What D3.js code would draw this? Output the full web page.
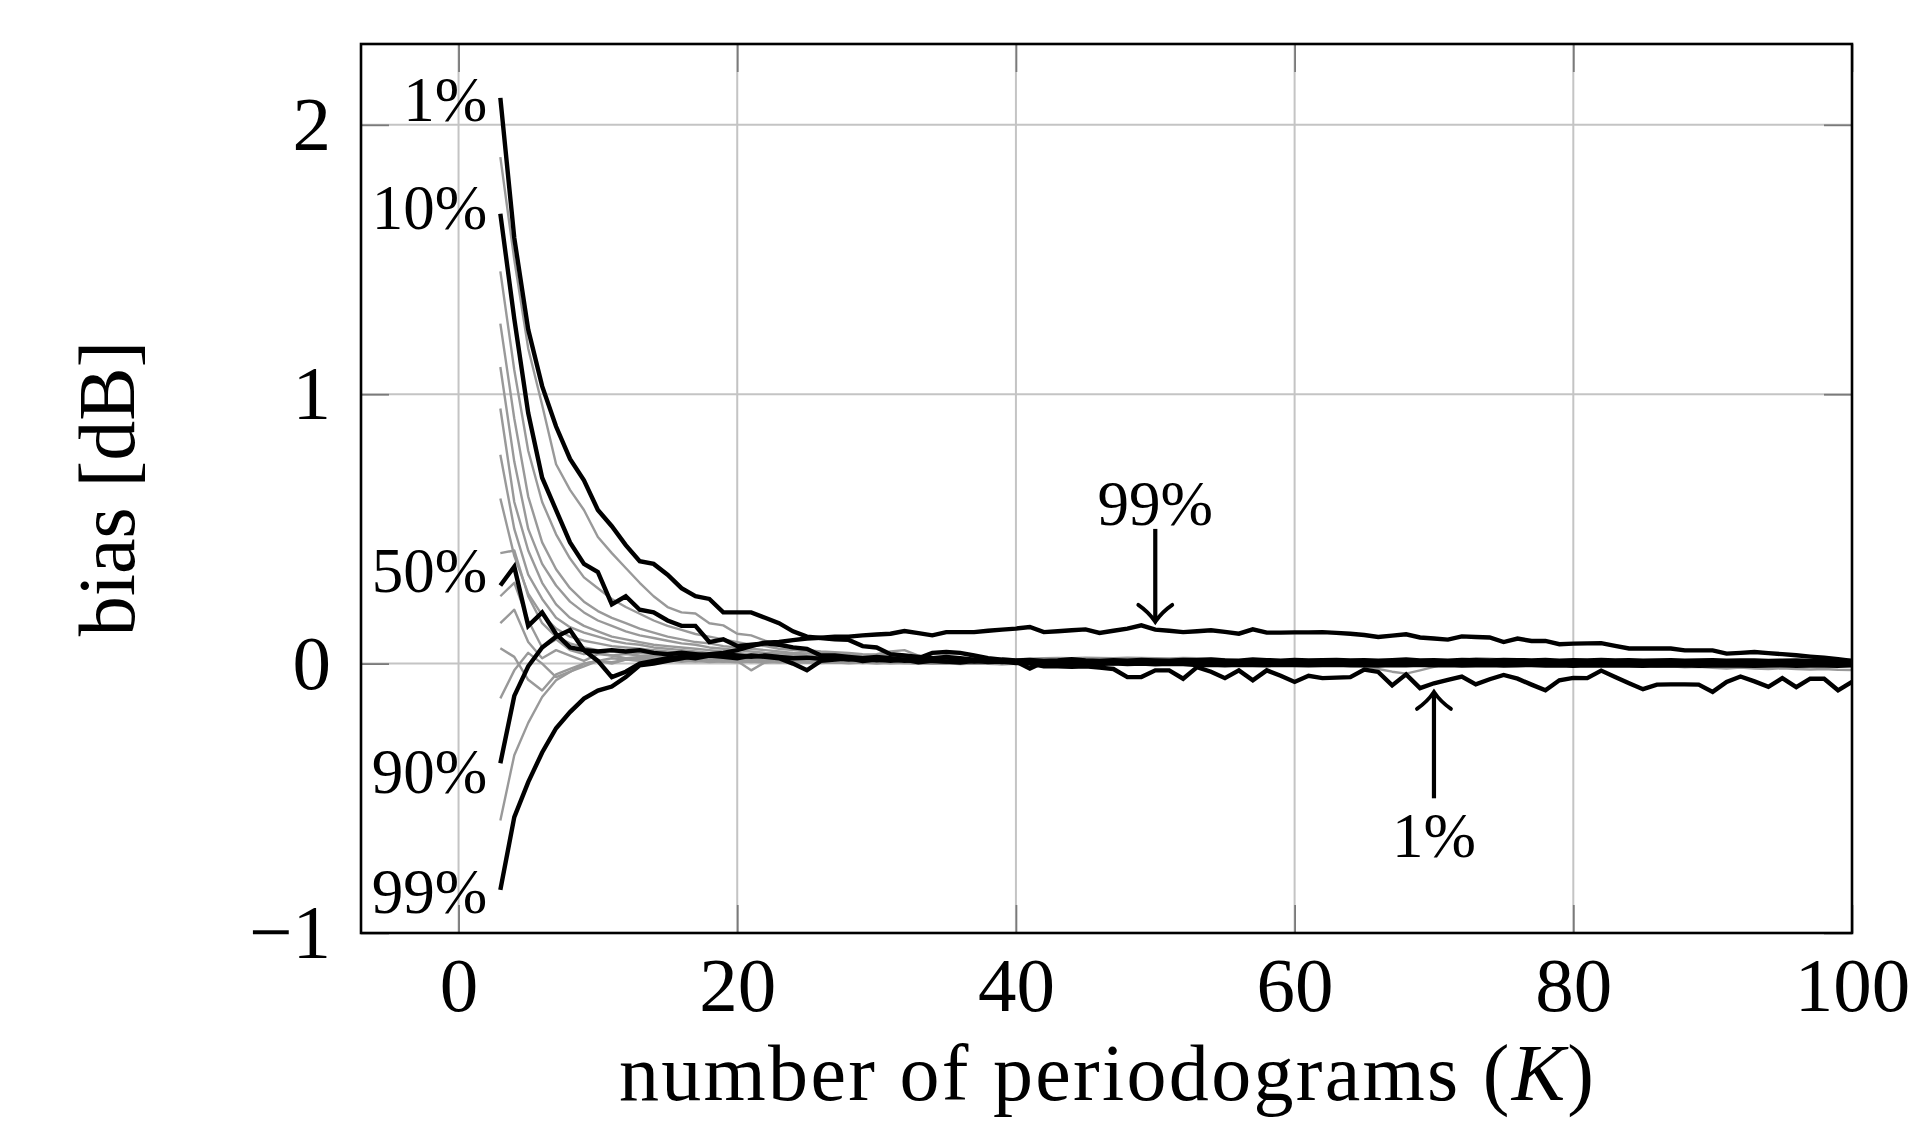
<!DOCTYPE html>
<html><head><meta charset="utf-8">
<script src="https://cdn.jsdelivr.net/npm/d3@7"></script>
<style>
html,body{margin:0;padding:0;background:#fff;}
svg{display:block;}
text{font-family:'Liberation Serif','Times New Roman',serif;fill:#000;}
</style>
</head><body>
<svg id="chart" width="1918" height="1145"></svg>
<script>
// ---------------- DATA ----------------
const K = [3,4,5,6,7,8,9,10,11,12,
13,14,15,16,17,18,19,20,21,22,
23,24,25,26,27,28,29,30,31,32,
33,34,35,36,37,38,39,40,41,42,
43,44,45,46,47,48,49,50,51,52,
53,54,55,56,57,58,59,60,61,62,
63,64,65,66,67,68,69,70,71,72,
73,74,75,76,77,78,79,80,81,82,
83,84,85,86,87,88,89,90,91,92,
93,94,95,96,97,98,99,100];

const xTicks = [0,20,40,60,80,100];
const yTicks = [-1,0,1,2];
const xTickLabels = ["0","20","40","60","80","100"];
const yTickLabels = ["\u22121","0","1","2"];
const xLabel = "number of periodograms";
const yLabel = "bias [dB]";

// black (labelled) curves
const p1 = [2.10,1.58,1.24,1.03,0.88,0.76,0.68,0.57,0.51,0.44,
0.38,0.37,0.33,0.28,0.25,0.24,0.19,0.19,0.19,0.17,
0.15,0.12,0.10,0.095,0.09,0.088,0.065,0.06,0.035,0.03,
0.025,0.02,0.025,0.02,0.015,0.015,0.01,0.005,0.0,-0.01,
-0.01,-0.012,-0.01,-0.015,-0.02,-0.05,-0.05,-0.025,-0.025,-0.056,
-0.013,-0.03,-0.054,-0.025,-0.062,-0.025,-0.045,-0.068,-0.045,-0.054,
-0.052,-0.05,-0.022,-0.031,-0.081,-0.04,-0.091,-0.073,-0.06,-0.048,
-0.077,-0.058,-0.042,-0.056,-0.078,-0.099,-0.062,-0.053,-0.054,-0.026,
-0.05,-0.073,-0.095,-0.078,-0.077,-0.077,-0.078,-0.105,-0.068,-0.048,
-0.066,-0.086,-0.054,-0.087,-0.056,-0.056,-0.099,-0.068];

const p10 = [1.67,1.28,0.93,0.69,0.57,0.45,0.37,0.34,0.22,0.25,
0.20,0.19,0.16,0.14,0.14,0.08,0.09,0.065,0.07,0.075,
0.07,0.06,0.055,0.03,0.03,0.025,0.02,0.025,0.02,0.015,
0.02,0.04,0.043,0.04,0.03,0.02,0.015,0.012,0.014,0.01,
0.012,0.016,0.012,0.01,0.013,0.011,0.014,0.012,0.011,0.014,
0.013,0.015,0.012,0.011,0.015,0.013,0.011,0.014,0.012,0.013,
0.014,0.012,0.013,0.011,0.013,0.015,0.012,0.013,0.011,0.014,
0.013,0.012,0.014,0.013,0.012,0.014,0.011,0.013,0.012,0.014,
0.012,0.013,0.011,0.012,0.013,0.011,0.012,0.013,0.011,0.012,
0.012,0.01,0.011,0.012,0.01,0.011,0.01,0.01];

const p50 = [0.29,0.36,0.14,0.19,0.11,0.06,0.05,0.045,0.05,0.045,
0.05,0.04,0.035,0.04,0.035,0.03,0.035,0.03,0.025,0.03,
0.025,0.02,0.022,0.018,0.02,0.015,0.018,0.012,0.015,0.01,
0.012,0.01,0.008,0.012,0.008,0.01,0.006,0.008,-0.018,0.006,
0.004,0.006,0.005,0.003,0.006,0.004,0.005,0.003,0.004,0.005,
0.003,0.004,0.002,0.004,0.003,0.002,0.004,0.003,0.002,0.003,
0.004,0.002,0.003,0.001,0.003,0.002,0.004,0.002,0.003,0.001,
0.002,0.003,0.001,0.002,0.003,0.001,0.002,0.0,0.002,0.001,
0.002,0.001,0.0,0.002,0.001,0.002,0.0,0.001,0.002,0.001,
0.0,0.001,0.002,0.0,0.001,0.001,0.0,0.001];

const p90 = [-0.37,-0.12,-0.01,0.06,0.10,0.125,0.05,0.01,-0.05,-0.03,
0.0,0.01,0.02,0.025,0.02,0.03,0.025,0.02,0.03,0.025,
0.02,0.0,-0.025,0.01,0.015,0.02,0.01,0.015,0.01,0.015,
0.005,0.01,0.008,0.004,0.01,0.006,0.008,0.002,0.004,0.006,
0.001,0.003,0.0,-0.002,0.001,-0.002,0.0,-0.003,-0.001,-0.002,
-0.005,-0.004,-0.006,-0.004,-0.005,-0.006,-0.004,-0.005,-0.006,-0.005,
-0.004,-0.006,-0.005,-0.007,-0.005,-0.006,-0.004,-0.006,-0.005,-0.007,
-0.006,-0.005,-0.007,-0.006,-0.005,-0.007,-0.006,-0.008,-0.006,-0.007,
-0.006,-0.007,-0.008,-0.006,-0.007,-0.006,-0.008,-0.007,-0.006,-0.007,
-0.008,-0.007,-0.006,-0.008,-0.007,-0.007,-0.008,-0.006];

const p99 = [-0.84,-0.57,-0.44,-0.33,-0.24,-0.18,-0.13,-0.10,-0.085,-0.05,
-0.006,0.0,0.01,0.02,0.03,0.035,0.04,0.05,0.065,0.078,
0.08,0.087,0.093,0.096,0.10,0.10,0.105,0.108,0.111,0.121,
0.113,0.105,0.117,0.117,0.117,0.122,0.126,0.13,0.136,0.117,
0.12,0.124,0.127,0.114,0.122,0.13,0.142,0.126,0.122,0.117,
0.12,0.124,0.118,0.111,0.127,0.115,0.115,0.116,0.116,0.117,
0.114,0.111,0.106,0.099,0.104,0.109,0.097,0.093,0.089,0.101,
0.099,0.097,0.08,0.093,0.084,0.084,0.072,0.074,0.075,0.076,
0.066,0.056,0.056,0.056,0.056,0.049,0.049,0.049,0.037,0.04,
0.043,0.039,0.035,0.031,0.026,0.022,0.016,0.01];

// gray (unlabelled) curves
const g1 = [1.88,1.50,1.17,0.96,0.74,0.645,0.57,0.47,0.41,0.355,
0.30,0.25,0.21,0.19,0.186,0.15,0.142,0.111,0.105,0.085,
0.07,0.06,0.05,0.045,0.042,0.04,0.035,0.032,0.03,0.026,
0.025,0.021,0.022,0.018,0.02,0.016,0.018,0.015,0.013,0.015,
0.012,0.011,0.013,0.01,0.009,0.011,0.008,0.01,0.007,0.009,
0.007,0.008,0.006,0.008,0.006,0.007,0.005,0.007,0.006,0.005,
0.006,0.005,0.007,0.005,0.006,0.004,0.006,0.005,0.004,0.006,
0.005,0.004,0.005,0.003,0.005,0.004,0.003,0.005,0.004,0.003,
0.004,0.003,0.004,0.002,0.004,0.003,0.002,0.004,0.003,0.002,
0.003,0.002,0.003,0.002,0.003,0.001,0.002,0.003];

const g2 = [1.456,1.09,0.79,0.60,0.48,0.39,0.32,0.28,0.24,0.21,
0.185,0.16,0.14,0.125,0.11,0.10,0.09,0.08,0.07,0.065,
0.055,0.05,0.046,0.04,0.037,0.034,0.03,0.027,0.025,0.022,
0.02,0.018,0.02,0.016,0.017,0.013,0.015,0.012,0.011,0.013,
0.01,0.012,0.009,0.011,0.008,0.01,0.009,0.007,0.009,0.008,
0.006,0.008,0.007,0.005,0.007,0.006,0.004,0.006,0.005,0.007,
0.005,0.004,0.006,0.005,0.003,0.005,0.004,0.006,0.004,0.003,
0.005,0.004,0.002,0.004,0.003,0.005,0.003,0.002,0.004,0.003,
0.002,0.004,0.003,0.001,0.003,0.002,0.004,0.002,0.001,0.003,
0.002,0.001,0.003,0.002,0.001,0.002,0.003,0.001];

const g3 = [1.262,0.91,0.62,0.45,0.35,0.28,0.23,0.195,0.17,0.15,
0.13,0.115,0.10,0.09,0.08,0.075,0.065,0.06,0.055,0.05,
0.045,0.04,0.038,0.035,0.03,0.028,0.03,0.035,0.045,0.05,
0.03,0.02,0.016,0.014,0.012,0.013,0.01,0.012,0.009,0.011,
0.008,0.01,0.007,0.009,0.006,0.008,0.007,0.005,0.007,0.006,
0.004,0.006,0.005,0.003,0.005,0.004,0.002,0.004,0.003,0.005,
0.003,0.002,0.004,0.003,0.001,0.003,0.002,0.004,0.002,0.001,
0.003,0.002,0.0,0.002,0.001,0.003,0.001,0.0,0.002,0.001,
0.0,0.002,0.001,-0.001,0.001,0.0,0.002,0.0,-0.001,0.001,
0.0,-0.001,0.001,0.0,-0.001,0.0,0.001,-0.001];

const g4 = [1.101,0.75,0.50,0.37,0.29,0.23,0.19,0.16,0.14,0.12,
0.105,0.095,0.085,0.075,0.07,0.06,0.055,0.05,0.045,0.04,
0.038,0.035,0.03,0.028,0.025,0.023,0.02,0.019,0.017,0.016,
0.014,0.015,0.012,0.013,0.01,0.011,0.009,0.01,0.008,0.009,
0.007,0.009,0.006,0.008,0.005,0.007,0.006,0.004,0.006,0.005,
0.003,0.005,0.004,0.002,0.004,0.003,0.001,0.003,0.002,0.004,
0.002,0.001,0.003,0.002,0.0,0.002,0.001,0.003,0.001,0.0,
0.002,0.001,-0.001,0.001,0.0,0.002,0.0,-0.001,0.001,0.0,
-0.001,0.001,0.0,-0.002,0.0,-0.001,0.001,-0.001,-0.002,0.0,
-0.001,-0.002,0.0,-0.001,-0.002,-0.001,0.0,-0.002];

const g5 = [0.947,0.60,0.42,0.30,0.22,0.17,0.14,0.12,0.10,0.09,
0.08,0.07,0.065,0.06,0.055,0.05,0.045,0.04,0.035,0.035,
0.03,0.028,0.025,0.027,0.022,0.02,0.018,0.019,0.016,0.015,
0.013,0.014,0.011,0.012,0.01,0.011,0.012,0.015,0.018,0.02,
0.021,0.02,0.022,0.021,0.02,0.022,0.021,0.02,0.019,0.021,
0.02,0.018,0.016,0.013,0.01,0.008,0.006,0.005,0.004,0.003,
0.004,0.002,0.003,0.001,0.002,0.0,0.001,0.002,0.0,0.001,
0.0,-0.001,0.001,0.0,-0.002,0.0,-0.001,0.001,-0.001,-0.002,
0.0,-0.001,-0.003,-0.001,-0.002,0.0,-0.002,-0.003,-0.001,-0.002,
-0.003,-0.002,-0.004,-0.002,-0.003,-0.004,-0.002,-0.003];

const g6 = [0.775,0.50,0.33,0.24,0.17,0.135,0.115,0.10,0.085,0.075,
0.07,0.06,0.055,0.05,0.045,0.04,0.04,0.035,0.03,0.03,
0.026,0.024,0.022,0.02,0.018,0.017,0.015,0.016,0.013,0.012,
0.011,0.012,0.009,0.01,0.008,0.009,0.007,0.008,0.006,0.007,
0.005,0.007,0.004,0.006,0.003,0.005,0.004,0.002,0.004,0.003,
0.001,0.003,0.002,0.0,0.002,0.001,-0.001,0.001,0.0,0.002,
0.0,-0.001,0.001,0.0,-0.002,0.0,-0.001,0.001,-0.001,-0.002,
0.0,-0.001,-0.003,-0.001,-0.002,0.0,-0.002,-0.003,-0.001,-0.002,
-0.003,-0.001,-0.002,-0.004,-0.002,-0.003,-0.001,-0.003,-0.004,-0.002,
-0.003,-0.004,-0.002,-0.003,-0.004,-0.003,-0.002,-0.004];

const g7 = [0.613,0.40,0.26,0.18,0.13,0.10,0.085,0.075,0.065,0.06,
0.055,0.05,0.045,0.04,0.04,0.035,0.03,0.03,0.025,0.025,
0.022,0.02,0.018,0.017,0.015,0.014,0.012,0.013,0.01,0.011,
0.009,0.01,0.008,0.009,0.006,0.008,0.005,0.007,0.005,0.006,
0.004,0.006,0.003,0.005,0.002,0.004,0.003,0.001,0.003,0.002,
0.0,0.002,0.001,-0.001,0.001,0.0,-0.002,0.0,-0.001,0.001,
-0.001,-0.002,0.0,-0.001,-0.003,-0.001,-0.002,0.0,-0.002,-0.003,
-0.001,-0.002,-0.004,-0.002,-0.003,-0.001,-0.003,-0.004,-0.002,-0.003,
-0.008,-0.006,-0.01,-0.012,-0.01,-0.014,-0.012,-0.016,-0.018,-0.015,
-0.018,-0.02,-0.017,-0.02,-0.022,-0.02,-0.023,-0.024];

const g8 = [0.41,0.42,0.25,0.15,0.10,0.075,0.06,0.05,0.045,0.04,
0.04,0.035,0.032,0.03,0.028,0.025,0.022,0.02,0.02,0.018,
0.016,0.015,0.013,0.014,0.012,0.011,0.01,0.012,0.009,0.01,
0.008,0.009,0.007,0.008,0.006,0.007,0.005,0.006,0.004,0.005,
0.003,0.005,0.002,0.004,0.003,0.001,0.003,0.002,0.0,0.002,
0.001,-0.001,0.001,0.0,-0.002,0.0,-0.001,0.001,-0.001,-0.002,
0.0,-0.001,-0.003,-0.001,-0.002,0.0,-0.002,-0.003,-0.001,-0.002,
-0.003,-0.001,-0.002,-0.004,-0.002,-0.003,-0.001,-0.003,-0.004,-0.002,
-0.003,-0.004,-0.002,-0.003,-0.005,-0.003,-0.004,-0.002,-0.004,-0.005,
-0.003,-0.004,-0.005,-0.003,-0.004,-0.005,-0.004,-0.003];

const g9 = [0.25,0.30,0.16,0.06,0.09,0.05,0.035,0.04,0.03,0.035,
0.03,0.028,0.025,0.027,0.022,0.02,0.018,0.01,-0.025,0.005,
0.012,0.015,0.011,0.013,0.01,0.012,0.009,0.011,0.008,0.01,
0.007,0.009,0.006,0.008,0.005,0.007,0.004,0.006,0.003,0.005,
0.002,0.004,0.001,0.003,0.002,0.0,0.002,0.001,-0.001,0.001,
0.0,-0.002,0.0,-0.001,-0.003,-0.001,-0.002,0.0,-0.002,-0.003,
-0.001,-0.002,-0.004,-0.002,-0.003,-0.001,-0.003,-0.004,-0.002,-0.003,
-0.004,-0.002,-0.003,-0.005,-0.003,-0.004,-0.002,-0.004,-0.005,-0.003,
-0.004,-0.005,-0.003,-0.004,-0.006,-0.004,-0.005,-0.003,-0.005,-0.006,
-0.004,-0.005,-0.006,-0.004,-0.005,-0.006,-0.005,-0.004];

const g10 = [0.15,0.20,0.08,0.02,0.05,0.03,0.01,0.035,0.03,0.02,
0.025,0.02,0.018,0.02,0.015,0.017,0.013,0.015,0.012,0.014,
0.011,0.013,0.01,0.012,0.009,0.011,0.008,0.01,0.007,0.009,
0.006,0.008,0.005,0.007,0.004,0.006,0.003,0.005,0.002,0.004,
0.001,0.003,0.0,0.002,0.001,-0.001,0.001,0.0,-0.002,0.0,
-0.001,-0.003,-0.001,-0.002,-0.004,-0.002,-0.003,-0.001,-0.003,-0.004,
-0.005,-0.008,-0.01,-0.02,-0.03,-0.037,-0.025,-0.012,0.0,0.012,
0.02,0.018,0.015,0.012,0.01,0.008,0.006,0.005,0.003,0.002,
0.0,0.001,-0.001,0.0,-0.002,0.0,-0.001,-0.002,0.0,-0.001,
-0.002,-0.001,0.0,-0.002,-0.001,0.0,-0.002,-0.001];

const g11 = [0.057,0.025,-0.06,-0.10,-0.04,-0.02,0.0,0.01,0.02,0.015,
0.018,0.015,0.017,0.013,0.015,0.012,0.014,0.011,0.013,0.01,
0.012,0.009,0.011,0.008,0.01,0.007,0.009,0.006,0.008,0.005,
0.007,0.004,0.006,0.003,0.005,0.002,0.004,0.001,0.003,0.0,
0.002,-0.001,0.001,-0.002,0.0,-0.001,0.001,-0.002,0.0,-0.001,
-0.002,0.0,-0.003,-0.001,-0.002,-0.004,-0.002,-0.003,-0.001,-0.003,
-0.004,-0.002,-0.003,-0.005,-0.003,-0.004,-0.002,-0.004,-0.005,-0.003,
-0.004,-0.005,-0.003,-0.004,-0.006,-0.004,-0.005,-0.003,-0.005,-0.006,
-0.004,-0.005,-0.006,-0.004,-0.005,-0.006,-0.005,-0.004,-0.006,-0.005,
-0.006,-0.004,-0.005,-0.006,-0.005,-0.004,-0.006,-0.005];

const g12 = [-0.129,-0.025,0.04,0.0,-0.05,-0.03,-0.01,0.01,0.0,0.015,
0.01,0.013,0.009,0.012,0.008,0.011,0.007,0.01,0.006,0.009,
0.005,0.008,0.004,0.007,0.003,0.006,0.002,0.005,0.001,0.004,
0.0,0.003,-0.001,0.002,0.0,0.001,-0.002,0.0,-0.001,0.001,
-0.002,0.0,-0.003,-0.001,-0.002,0.0,-0.003,-0.001,-0.002,-0.004,
-0.002,-0.003,-0.001,-0.003,-0.004,-0.002,-0.003,-0.001,-0.003,-0.004,
-0.002,-0.004,-0.003,-0.005,-0.003,-0.004,-0.002,-0.004,-0.005,-0.003,
-0.005,-0.003,-0.004,-0.006,-0.004,-0.005,-0.003,-0.005,-0.006,-0.004,
-0.005,-0.006,-0.004,-0.005,-0.007,-0.005,-0.006,-0.004,-0.006,-0.007,
-0.005,-0.006,-0.007,-0.005,-0.006,-0.007,-0.006,-0.005];

const g13 = [-0.582,-0.34,-0.22,-0.124,-0.062,-0.031,0.0,0.01,0.005,0.015,
0.012,0.008,0.011,0.007,0.01,0.006,0.009,0.005,0.008,0.004,
0.007,0.003,0.006,0.002,0.005,0.001,0.004,0.0,0.003,0.001,
0.002,-0.001,0.001,-0.002,0.0,-0.001,-0.003,-0.001,-0.002,0.0,
-0.002,-0.003,-0.001,-0.003,-0.004,-0.002,-0.003,-0.001,-0.003,-0.004,
-0.003,-0.005,-0.003,-0.004,-0.002,-0.004,-0.005,-0.003,-0.004,-0.006,
-0.004,-0.005,-0.003,-0.005,-0.006,-0.004,-0.005,-0.003,-0.005,-0.006,
-0.004,-0.006,-0.005,-0.007,-0.005,-0.006,-0.004,-0.006,-0.007,-0.005,
-0.006,-0.007,-0.005,-0.006,-0.008,-0.006,-0.007,-0.005,-0.007,-0.008,
-0.006,-0.007,-0.008,-0.006,-0.007,-0.008,-0.007,-0.006];

const graySeries = [g1,g2,g3,g4,g5,g6,g7,g8,g9,g10,g11,g12,g13];
const blackSeries = [p1,p10,p50,p90,p99];

// start-of-curve labels (data coords: K and bias value of the label centre)
const startLabels = [
  {text:"1%",  k:3, v:2.095},
  {text:"10%", k:3, v:1.693},
  {text:"50%", k:3, v:0.346},
  {text:"90%", k:3, v:-0.40},
  {text:"99%", k:3, v:-0.848}
];
// arrow annotations
const arrowNotes = [
  {text:"99%", k:50, from:0.50,  to:0.155,  labelV:0.594},
  {text:"1%",  k:70, from:-0.50, to:-0.105, labelV:-0.64}
];

// ---------------- DRAW ----------------
const svg = d3.select("#chart");
svg.append("rect").attr("width",1918).attr("height",1145).attr("fill","#fff");

const L = 361, R = 1852, T = 44, B = 933;
const x = d3.scaleLinear().domain([-7,100]).range([L,R]);
const y = d3.scaleLinear().domain([-1,2.3]).range([B,T]);

// grid
const grid = svg.append("g").attr("stroke","#c4c4c4").attr("stroke-width",2);
grid.selectAll("line.gx").data(xTicks).join("line")
  .attr("x1",d=>x(d)).attr("x2",d=>x(d)).attr("y1",T).attr("y2",B);
grid.selectAll("line.gy").data(yTicks).join("line")
  .attr("y1",d=>y(d)).attr("y2",d=>y(d)).attr("x1",L).attr("x2",R);

// axes (ticks inside, labels outside)
const TL = 28;
const fmtX = d=>xTickLabels[xTicks.indexOf(d)];
const fmtY = d=>yTickLabels[yTicks.indexOf(d)];
const axB = svg.append("g").attr("transform",`translate(0,${B})`)
  .call(d3.axisBottom(x).tickValues(xTicks).tickFormat(fmtX).tickSizeInner(-TL).tickSizeOuter(0).tickPadding(23));
const axT = svg.append("g").attr("transform",`translate(0,${T})`)
  .call(d3.axisTop(x).tickValues(xTicks).tickFormat("").tickSizeInner(-TL).tickSizeOuter(0));
const axL = svg.append("g").attr("transform",`translate(${L},0)`)
  .call(d3.axisLeft(y).tickValues(yTicks).tickFormat(fmtY).tickSizeInner(-TL).tickSizeOuter(0).tickPadding(30));
const axR = svg.append("g").attr("transform",`translate(${R},0)`)
  .call(d3.axisRight(y).tickValues(yTicks).tickFormat("").tickSizeInner(-TL).tickSizeOuter(0));
[axB,axT,axL,axR].forEach(a=>{
  a.select(".domain").remove();
  a.selectAll(".tick line").attr("stroke","#7a7a7a").attr("stroke-width",1.8);
  a.selectAll(".tick text").attr("font-family","'Liberation Serif',serif").attr("font-size",77).attr("fill","#000");
});

// curves
const line = d3.line().x((d,i)=>x(K[i])).y(d=>y(d));
svg.append("g").selectAll("path").data(graySeries).join("path")
  .attr("d",line).attr("fill","none").attr("stroke","#999").attr("stroke-width",2.4)
  .attr("stroke-linejoin","round");
svg.append("g").selectAll("path").data(blackSeries).join("path")
  .attr("d",line).attr("fill","none").attr("stroke","#000").attr("stroke-width",4.4)
  .attr("stroke-linejoin","miter").attr("stroke-miterlimit",3);

// frame
svg.append("rect").attr("x",L).attr("y",T).attr("width",R-L).attr("height",B-T)
  .attr("fill","none").attr("stroke","#000").attr("stroke-width",2.6);

// start labels
svg.append("g").selectAll("text").data(startLabels).join("text")
  .attr("x",d=>x(d.k)-13).attr("y",d=>y(d.v)).attr("dy","0.34em")
  .attr("text-anchor","end").attr("font-size",63).text(d=>d.text);

// arrows
const ag = svg.append("g");
arrowNotes.forEach(a=>{
  const xa = x(a.k), y0 = y(a.from), y1 = y(a.to);
  const dir = Math.sign(y1-y0);
  ag.append("line").attr("x1",xa).attr("x2",xa).attr("y1",y0).attr("y2",y1-dir*2)
    .attr("stroke","#000").attr("stroke-width",4.2);
  const w = 17, h = 17;
  ag.append("path")
    .attr("d",`M${xa-w},${y1-dir*h} C${xa-w*0.35},${y1-dir*h*0.55} ${xa-2},${y1-dir*3} ${xa},${y1} C${xa+2},${y1-dir*3} ${xa+w*0.35},${y1-dir*h*0.55} ${xa+w},${y1-dir*h}`)
    .attr("fill","none").attr("stroke","#000").attr("stroke-width",3.8).attr("stroke-linecap","round");
  ag.append("text").attr("x",xa).attr("y",y(a.labelV)).attr("dy","0.34em")
    .attr("text-anchor","middle").attr("font-size",63).text(a.text);
});

// axis labels
const xl = svg.append("text").attr("x",(L+R)/2).attr("y",1100).attr("text-anchor","middle")
  .attr("font-size",80);
xl.append("tspan").text(xLabel+" (");
xl.append("tspan").attr("font-style","italic").text("K");
xl.append("tspan").text(")");
xl.attr("textLength",975).attr("lengthAdjust","spacing");

svg.append("text").attr("transform",`translate(134,${(T+B)/2}) rotate(-90)`)
  .attr("text-anchor","middle").attr("font-size",80).text(yLabel);
</script>
</body></html>
